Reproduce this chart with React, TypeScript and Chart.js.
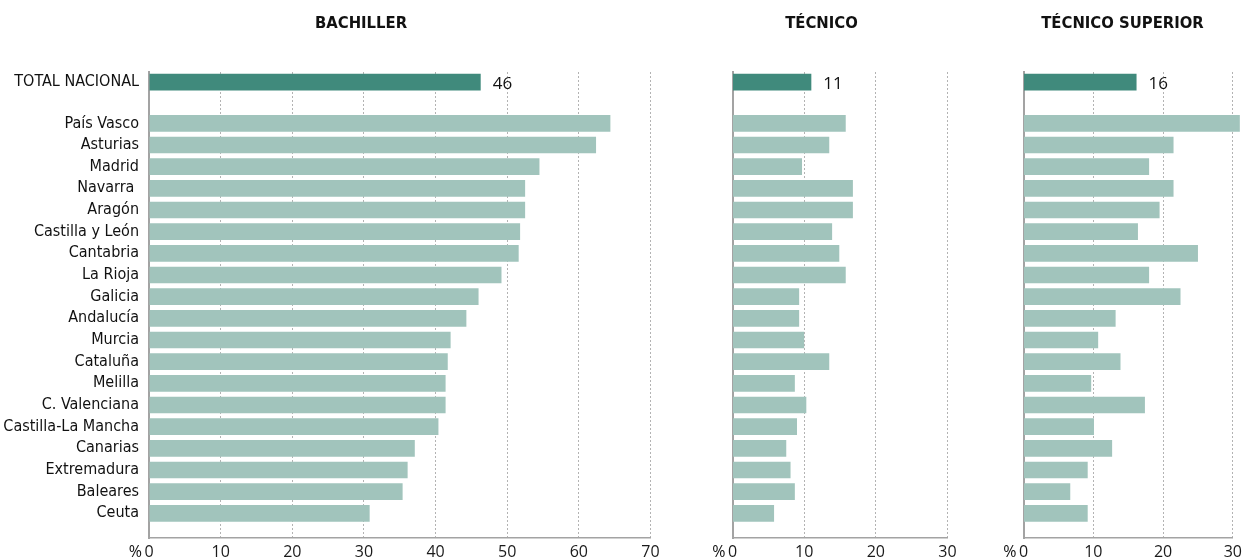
import React, { useEffect, useRef } from 'react';
import { Chart, registerables } from 'chart.js';

Chart.register(...registerables);

const W = 1247;
const H = 560;

// ---------- data ----------
const totalLabel = 'TOTAL NACIONAL';
const regions = [
  'País Vasco', 'Asturias', 'Madrid', 'Navarra ', 'Aragón', 'Castilla y León', 'Cantabria',
  'La Rioja', 'Galicia', 'Andalucía', 'Murcia', 'Cataluña', 'Melilla', 'C. Valenciana',
  'Castilla-La Mancha', 'Canarias', 'Extremadura', 'Baleares', 'Ceuta',
];
const panelTitles = ['BACHILLER', 'TÉCNICO', 'TÉCNICO SUPERIOR'];

const bachillerTotal = 46.3;
const bachiller = [64.4, 62.4, 54.5, 52.5, 52.5, 51.8, 51.6, 49.2, 46.0, 44.3, 42.1, 41.7, 41.4, 41.4, 40.4, 37.1, 36.1, 35.4, 30.8];

const tecnicoTotal = 11.0;
const tecnico = [15.8, 13.5, 9.7, 16.8, 16.8, 13.9, 14.9, 15.8, 9.3, 9.3, 10.0, 13.5, 8.7, 10.3, 9.0, 7.5, 8.1, 8.7, 5.8];

const tecSupTotal = 16.2;
const tecSup = [31.0, 21.5, 18.0, 21.5, 19.5, 16.4, 25.0, 18.0, 22.5, 13.2, 10.7, 13.9, 9.7, 17.4, 10.1, 12.7, 9.2, 6.7, 9.2];

const axisMax = [70, 30, 30];
const axisStep = 10;
const unitLabel = '%';

// ---------- styles ----------
const DARK = '#408a7c';
const LIGHT = '#a1c4bc';
const CONDENSED = "'DejaVu Sans Condensed', 'Liberation Sans Narrow', sans-serif";
const SANS = "'Open Sans', sans-serif";

const allLabels = [totalLabel, ...regions];
// row positions on the (reversed) index axis: total, a gap, then the regions
const rowPos = [0.1, ...regions.map((_, i) => i + 2)];

type PanelCfg = {
  title: string;
  total: number;
  values: number[];
  xMax: number;
  padLeft: number;
  padRight: number;
  yWidth: number;
  showLabels: boolean;
  titleX: number;
};

const panels: PanelCfg[] = [
  { title: panelTitles[0], total: bachillerTotal, values: bachiller, xMax: axisMax[0], padLeft: 0, padRight: W - 650.5, yWidth: 149, showLabels: true, titleX: 361 },
  { title: panelTitles[1], total: tecnicoTotal, values: tecnico, xMax: axisMax[1], padLeft: 732.5, padRight: W - 947.5, yWidth: 0, showLabels: false, titleX: 821.5 },
  { title: panelTitles[2], total: tecSupTotal, values: tecSup, xMax: axisMax[2], padLeft: 1023.5, padRight: W - 1238.5, yWidth: 0, showLabels: false, titleX: 1122.5 },
];

const decor = {
  id: 'decor',
  afterDraw(chart: any, _args: any, opts: any) {
    const { ctx, chartArea } = chart;
    ctx.save();
    ctx.fillStyle = '#111';
    // panel title
    ctx.font = `bold 16.5px ${CONDENSED}`;
    ctx.textAlign = 'center';
    ctx.textBaseline = 'middle';
    ctx.fillText(opts.title, opts.titleX, 24);
    // unit label
    ctx.font = `16px ${SANS}`;
    ctx.textAlign = 'right';
    ctx.fillText(unitLabel, chartArea.left - 7, chartArea.bottom + 14);
    // total value label
    const bar = chart.getDatasetMeta(0).data[0];
    ctx.font = `17px ${SANS}`;
    ctx.textAlign = 'left';
    ctx.fillText(String(Math.round(opts.total)), bar.x + 12, bar.y + 2);
    ctx.restore();
  },
};

function PanelChart({ cfg }: { cfg: PanelCfg }) {
  const ref = useRef<HTMLCanvasElement | null>(null);
  useEffect(() => {
    if (!ref.current) return;
    const vals = [cfg.total, ...cfg.values];
    const chart = new Chart(ref.current, {
      type: 'bar',
      data: {
        datasets: [
          {
            data: vals.map((v, i) => ({ x: v, y: rowPos[i] })) as any,
            backgroundColor: vals.map((_, i) => (i === 0 ? DARK : LIGHT)),
            barPercentage: 0.77,
            categoryPercentage: 1,
            clip: false as any,
          },
        ],
      },
      options: {
        indexAxis: 'y',
        animation: false,
        responsive: false,
        events: [],
        layout: { padding: { top: 72, left: cfg.padLeft, right: cfg.padRight, bottom: 0 } },
        plugins: {
          legend: { display: false },
          tooltip: { enabled: false },
          title: { display: false },
          decor: { title: cfg.title, titleX: cfg.titleX, total: cfg.total },
        } as any,
        scales: {
          x: {
            type: 'linear',
            position: 'bottom',
            min: 0,
            max: cfg.xMax,
            ticks: {
              stepSize: axisStep,
              autoSkip: false,
              padding: 5,
              color: '#1a1a1a',
              font: { family: SANS, size: 16 },
            },
            grid: {
              drawTicks: false,
              lineWidth: 1,
              color: (c: any) => (c.tick && c.tick.value === 0 ? 'rgba(0,0,0,0)' : '#b3b3b3'),
            },
            border: { color: '#a3a3a3', width: 1.5, dash: [2, 2] },
            afterFit: (s: any) => {
              s.height = 22;
            },
          },
          y: {
            type: 'linear',
            reverse: true,
            offset: false,
            min: -0.37,
            max: 21.14,
            afterBuildTicks: (s: any) => {
              s.ticks = rowPos.map((v) => ({ value: v }));
            },
            ticks: {
              display: cfg.showLabels,
              autoSkip: false,
              padding: 10,
              color: '#111',
              font: { family: CONDENSED, size: 16 },
              callback: (_v: any, i: number) => allLabels[i],
            },
            grid: { display: false, offset: false, drawTicks: false },
            border: { color: '#a3a3a3', width: 2 },
            afterFit: (s: any) => {
              s.width = cfg.yWidth;
            },
          },
        } as any,
      },
      plugins: [decor],
    });
    return () => chart.destroy();
  }, [cfg]);
  return <canvas ref={ref} width={W} height={H} style={{ position: 'absolute', left: 0, top: 0 }} />;
}

export default function App() {
  return (
    <div style={{ position: 'absolute', left: 0, top: 0, width: W, height: H, background: '#fff', overflow: 'hidden' }}>
      {panels.map((p) => (
        <PanelChart key={p.title} cfg={p} />
      ))}
    </div>
  );
}
